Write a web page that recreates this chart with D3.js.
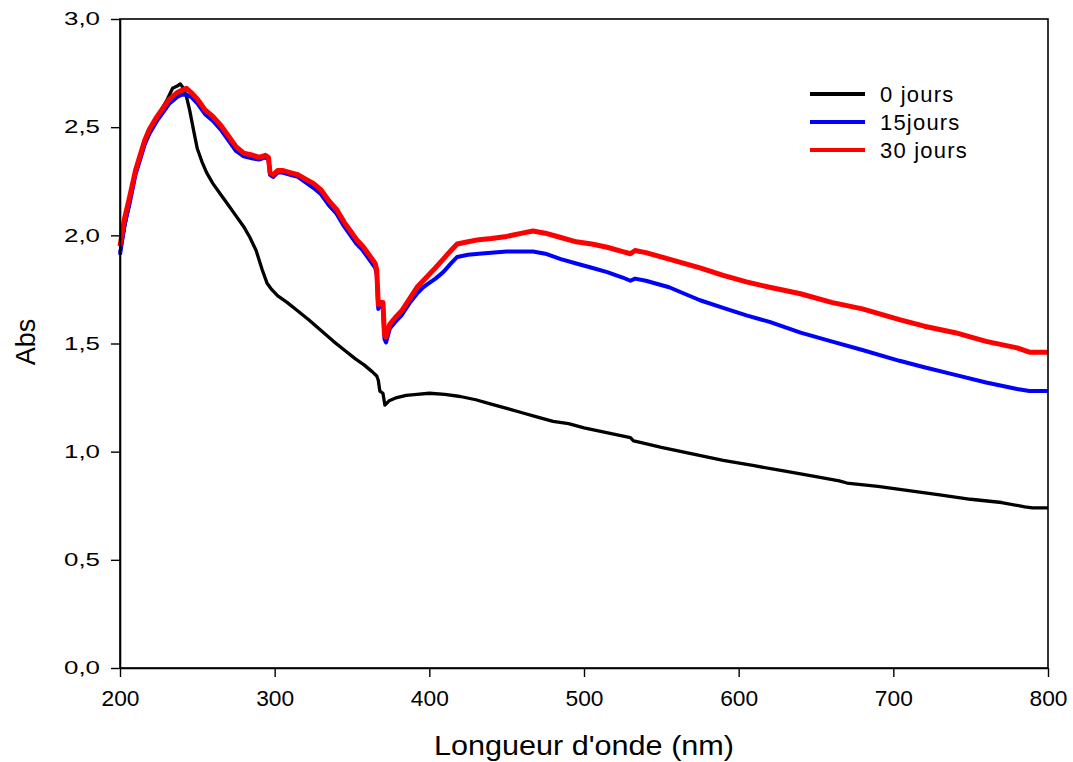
<!DOCTYPE html>
<html>
<head>
<meta charset="utf-8">
<script src="https://cdn.jsdelivr.net/npm/d3@7"></script>
<style>
  html, body { margin: 0; padding: 0; background: #fff; }
  svg { display: block; font-family: "Liberation Sans", Arial, sans-serif; }
</style>
</head>
<body>
<svg id="chart" width="1073" height="762"></svg>
<script>
// UV-visible absorbance spectra after 0, 15 and 30 days

// Wavelengths (nm) and absorbance for each series
const wl0 = [200,203,206,210,215,220,225,230,234,237,239,241,243,245,248,250,253,256,260,265,270,275,280,284,288,292,295,298,302,308,315,322,330,338,345,352,358,363,366,367,368,370,371.3,374,379,385,392,400,410,420,430,440,450,460,470,480,490,500,510,520,530,532,535,550,570,590,610,630,650,665,670,690,710,730,750,770,785,790,800];
const abs0 = [1.92,2.04,2.15,2.30,2.41,2.50,2.56,2.62,2.68,2.69,2.70,2.68,2.64,2.58,2.47,2.40,2.34,2.29,2.24,2.19,2.14,2.09,2.04,1.99,1.93,1.84,1.78,1.75,1.72,1.69,1.65,1.61,1.56,1.51,1.47,1.43,1.40,1.37,1.35,1.33,1.28,1.27,1.215,1.235,1.25,1.26,1.265,1.27,1.265,1.255,1.24,1.22,1.20,1.18,1.16,1.14,1.13,1.11,1.095,1.08,1.065,1.05,1.045,1.02,0.99,0.96,0.935,0.91,0.885,0.865,0.855,0.84,0.82,0.80,0.78,0.765,0.745,0.74,0.74];

const wl15 = [200,203,206,210,213,216,219,224,228,232,237,240,243,246,250,255,260,265,270,275,280,286,290,294,296,297,299,302,305,310,315,320,325,330,335,340,345,349,353,357,361,365,366,367,369,370,371,372,374.5,378,382,387.5,392,396,400,404,409,414,418,425,432,440,450,460,467,475,485,495,505,515,525,530,533,540,555,575,590,605,620,640,660,680,704,720,740,760,780,788,800];
const abs15 = [1.91,2.05,2.14,2.28,2.35,2.42,2.47,2.53,2.57,2.61,2.64,2.65,2.65,2.64,2.61,2.56,2.53,2.49,2.44,2.39,2.365,2.355,2.35,2.36,2.35,2.28,2.27,2.29,2.29,2.28,2.27,2.245,2.22,2.19,2.14,2.10,2.04,2.00,1.96,1.93,1.89,1.85,1.82,1.66,1.68,1.68,1.52,1.505,1.57,1.60,1.63,1.69,1.73,1.76,1.78,1.80,1.83,1.87,1.90,1.91,1.915,1.92,1.925,1.925,1.925,1.915,1.89,1.87,1.85,1.83,1.805,1.79,1.80,1.79,1.76,1.70,1.665,1.63,1.60,1.55,1.51,1.47,1.42,1.39,1.355,1.32,1.29,1.28,1.28];

const wl30 = [200,203,206,210,213,216,219,224,228,232,237,240,243,246,250,255,260,265,270,275,280,286,290,294,296,297,299,302,305,310,315,320,325,330,335,340,345,349,353,357,361,365,366,367,369,370,371,372,374.5,378,382,387.5,392,396,400,404,409,414,418,425,432,440,450,460,467,475,485,495,505,515,525,530,533,540,555,575,590,605,620,640,660,680,704,720,740,760,780,788,800];
const abs30 = [1.95,2.08,2.17,2.30,2.37,2.44,2.49,2.55,2.59,2.63,2.66,2.67,2.68,2.66,2.63,2.58,2.55,2.51,2.46,2.41,2.38,2.37,2.36,2.37,2.36,2.29,2.28,2.30,2.30,2.29,2.28,2.26,2.24,2.21,2.16,2.12,2.06,2.02,1.98,1.95,1.91,1.87,1.84,1.68,1.69,1.69,1.54,1.53,1.59,1.62,1.65,1.71,1.76,1.79,1.82,1.85,1.89,1.93,1.96,1.97,1.98,1.985,1.995,2.01,2.02,2.01,1.99,1.97,1.96,1.945,1.925,1.915,1.93,1.92,1.89,1.85,1.815,1.785,1.76,1.73,1.69,1.66,1.61,1.58,1.55,1.51,1.48,1.46,1.46];

const seriesNames = ["0 jours", "15jours", "30 jours"];
const seriesColors = ["#000000", "#0000ff", "#ff0000"];
const seriesWidths = [3.3, 4, 5];

const xTicks = [200, 300, 400, 500, 600, 700, 800];
const yTicks = [0, 0.5, 1.0, 1.5, 2.0, 2.5, 3.0];

const xTitle = "Longueur d'onde (nm)";
const yTitle = "Abs";

// Layout
const svg = d3.select("#chart");
const plotLeft = 120, plotRight = 1048, plotTop = 19, plotBottom = 668;

const x = d3.scaleLinear().domain([200, 800]).range([plotLeft, plotRight]);
const y = d3.scaleLinear().domain([0, 3]).range([plotBottom, plotTop]);

const fmt = d => d3.format(".1f")(d).replace(".", ",");

// Curves
const series = [
  wl0.map((w, i) => [w, abs0[i]]),
  wl15.map((w, i) => [w, abs15[i]]),
  wl30.map((w, i) => [w, abs30[i]])
];

const line = d3.line().x(d => x(d[0])).y(d => y(d[1]));

const plot = svg.append("g");
series.forEach((s, i) => {
  plot.append("path")
    .datum(s)
    .attr("fill", "none")
    .attr("stroke", seriesColors[i])
    .attr("stroke-width", seriesWidths[i])
    .attr("stroke-linejoin", "round")
    .attr("stroke-linecap", "butt")
    .attr("d", line);
});

// Frame
svg.append("rect")
  .attr("x", plotLeft).attr("y", plotTop)
  .attr("width", plotRight - plotLeft).attr("height", plotBottom - plotTop)
  .attr("fill", "none").attr("stroke", "#000").attr("stroke-width", 1.6);

// Axes
const xAxis = d3.axisBottom(x).tickValues(xTicks).tickSize(9).tickSizeOuter(0).tickPadding(13)
  .tickFormat(d3.format("d"));
const gx = svg.append("g").attr("transform", `translate(0,${plotBottom})`).call(xAxis);
gx.select(".domain").attr("stroke-width", 1.6);
gx.selectAll(".tick line").attr("stroke-width", 1.4);
gx.selectAll(".tick text")
  .attr("font-size", 22).attr("fill", "#000")
  .attr("font-family", "'Liberation Sans', Arial, sans-serif")
  .attr("textLength", 38).attr("lengthAdjust", "spacingAndGlyphs");

const yAxis = d3.axisLeft(y).tickValues(yTicks).tickSize(9).tickSizeOuter(0).tickPadding(11)
  .tickFormat(fmt);
const gy = svg.append("g").attr("transform", `translate(${plotLeft},0)`).call(yAxis);
gy.select(".domain").attr("stroke-width", 1.6);
gy.selectAll(".tick line").attr("stroke-width", 1.4);
gy.selectAll(".tick text")
  .attr("font-size", 18).attr("fill", "#000")
  .attr("font-family", "'Liberation Sans', Arial, sans-serif")
  .attr("textLength", 36).attr("lengthAdjust", "spacingAndGlyphs");

// Axis titles
svg.append("text")
  .attr("x", (plotLeft + plotRight) / 2).attr("y", 755)
  .attr("text-anchor", "middle")
  .attr("font-size", 27)
  .attr("textLength", 300).attr("lengthAdjust", "spacingAndGlyphs")
  .text(xTitle);

svg.append("text")
  .attr("transform", `translate(35,342) rotate(-90)`)
  .attr("text-anchor", "middle")
  .attr("font-size", 27)
  .text(yTitle);

// Legend
const legend = svg.append("g");
seriesNames.forEach((name, i) => {
  const ly = 94 + i * 28;
  legend.append("line")
    .attr("x1", 810).attr("x2", 865)
    .attr("y1", ly).attr("y2", ly)
    .attr("stroke", seriesColors[i]).attr("stroke-width", 4);
  legend.append("text")
    .attr("x", 880).attr("y", ly + 8)
    .attr("font-size", 22)
    .attr("letter-spacing", 1.2)
    .text(name);
});
</script>
</body>
</html>
